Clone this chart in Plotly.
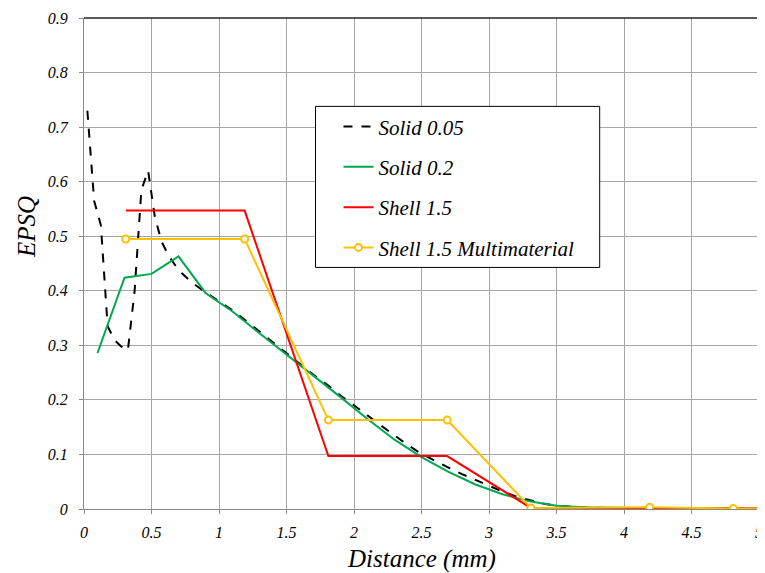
import plotly.graph_objects as go

# Solid 0.05 (dashed black)
s005_x = [0.025, 0.075, 0.125, 0.175, 0.225, 0.275, 0.325, 0.375, 0.425, 0.475, 0.525, 0.575,
          0.625, 0.675, 0.725, 0.8, 0.9, 1.0, 1.1, 1.2, 1.3, 1.4, 1.5, 1.6, 1.7, 1.8, 1.9, 2.0,
          2.1, 2.2, 2.3, 2.4, 2.5, 2.6, 2.7, 2.8, 2.9, 3.0, 3.1, 3.2, 3.3, 3.4, 3.5, 3.7, 4.0,
          4.5, 5.0]
s005_y = [0.73, 0.565, 0.52, 0.335, 0.31, 0.298, 0.291, 0.40, 0.585, 0.62, 0.535, 0.49,
          0.465, 0.447, 0.432, 0.415, 0.397, 0.381, 0.364, 0.345, 0.325, 0.305, 0.285, 0.265,
          0.246, 0.228, 0.208, 0.19, 0.171, 0.153, 0.135, 0.117, 0.101, 0.088, 0.076, 0.064,
          0.053, 0.042, 0.032, 0.023, 0.016, 0.01, 0.006, 0.003, 0.001, 0.001, 0.0005]

# Solid 0.2 (green)
s02_x = [0.1, 0.3, 0.5, 0.7, 0.9, 1.1, 1.3, 1.5, 1.7, 1.9, 2.1, 2.3, 2.5, 2.7, 2.9, 3.1,
         3.3, 3.5, 3.7, 3.9, 4.1, 4.3, 4.5, 4.7, 4.9]
s02_y = [0.286, 0.424, 0.431, 0.463, 0.396, 0.362, 0.322, 0.283, 0.245, 0.205, 0.165, 0.127,
         0.095, 0.068, 0.045, 0.027, 0.014, 0.006, 0.003, 0.002, 0.0015, 0.001, 0.001, 0.001,
         0.001]

# Shell 1.5 (red)
sh_x = [0.31, 1.19, 1.81, 2.69, 3.31, 4.19, 4.81, 5.69]
sh_y = [0.547, 0.547, 0.097, 0.097, 0.002, 0.002, 0.001, 0.001]

# Shell 1.5 Multimaterial (yellow)
shm_x = [0.31, 1.19, 1.81, 2.69, 3.31, 4.19, 4.81, 5.69]
shm_y = [0.495, 0.495, 0.163, 0.163, 0.002, 0.003, 0.001, 0.001]

x_ticks = [0, 0.5, 1, 1.5, 2, 2.5, 3, 3.5, 4, 4.5, 5]
y_ticks = [0, 0.1, 0.2, 0.3, 0.4, 0.5, 0.6, 0.7, 0.8, 0.9]

FONT = "Liberation Serif"

fig = go.Figure()
fig.add_trace(go.Scatter(x=s005_x, y=s005_y, mode="lines", name="Solid 0.05", legendgroup="a",
                         line=dict(color="black", width=2, dash="dash")))
fig.add_trace(go.Scatter(x=s02_x, y=s02_y, mode="lines", name="Solid 0.2", legendgroup="b",
                         line=dict(color="#00a84f", width=2)))
fig.add_trace(go.Scatter(x=sh_x, y=sh_y, mode="lines", name="Shell 1.5", legendgroup="c",
                         line=dict(color="#ff0000", width=2)))
fig.add_trace(go.Scatter(x=shm_x, y=shm_y, mode="lines+markers", name="Shell 1.5 Multimaterial",
                         legendgroup="d",
                         line=dict(color="#ffc000", width=2),
                         marker=dict(symbol="circle", size=7, color="white",
                                     line=dict(color="#ffc000", width=2))))

axis_common = dict(showgrid=True, gridcolor="#a6a6a6", gridwidth=1, zeroline=False,
                   showline=True, linecolor="#888888", linewidth=1,
                   ticks="outside", ticklen=4, tickcolor="#888888",
                   ticklabeloverflow="allow",
                   tickfont=dict(family=FONT, size=16, color="black", style="italic"))

fig.update_xaxes(range=[0, 5], tickvals=x_ticks, ticklabelstandoff=5, **axis_common)
fig.update_yaxes(range=[0, 0.9], tickvals=y_ticks, ticklabelstandoff=8, **axis_common)

fig.add_annotation(text="EPSQ", xref="paper", yref="paper", x=-0.0855, y=0.575,
                   xanchor="center", yanchor="middle",
                   textangle=-90, showarrow=False,
                   font=dict(family=FONT, size=25, style="italic", color="black"))
fig.add_annotation(text="Distance (mm)", xref="paper", yref="paper", x=0.5, y=-0.101,
                   xanchor="center", yanchor="middle", showarrow=False,
                   font=dict(family=FONT, size=25, style="italic", color="black"))

# top and right dark border
fig.add_shape(type="line", xref="paper", yref="paper", x0=0, x1=1, y0=1, y1=1,
              line=dict(color="#222222", width=1.5))
fig.add_shape(type="line", xref="paper", yref="paper", x0=1, x1=1, y0=0, y1=1,
              line=dict(color="#222222", width=1.5))
# legend box
fig.add_shape(type="rect", xref="paper", yref="paper", x0=0.343, x1=0.764, y0=0.492, y1=0.820,
              line=dict(color="black", width=1), fillcolor="white", layer="above")

# page body has an 8px margin: shrink figure so the plot area lands where the reference has it
fig.update_layout(
    width=757, height=565,
    margin=dict(l=76, r=2, t=7, b=64),
    plot_bgcolor="white", paper_bgcolor="white",
    font=dict(family=FONT, color="black"),
    legend=dict(x=0.377, y=0.82, xanchor="left", yanchor="top",
                bgcolor="rgba(0,0,0,0)", borderwidth=0,
                font=dict(family=FONT, size=21, style="italic", color="black"),
                traceorder="grouped", tracegroupgap=10, itemwidth=30),
)

fig.write_html("out.html")
